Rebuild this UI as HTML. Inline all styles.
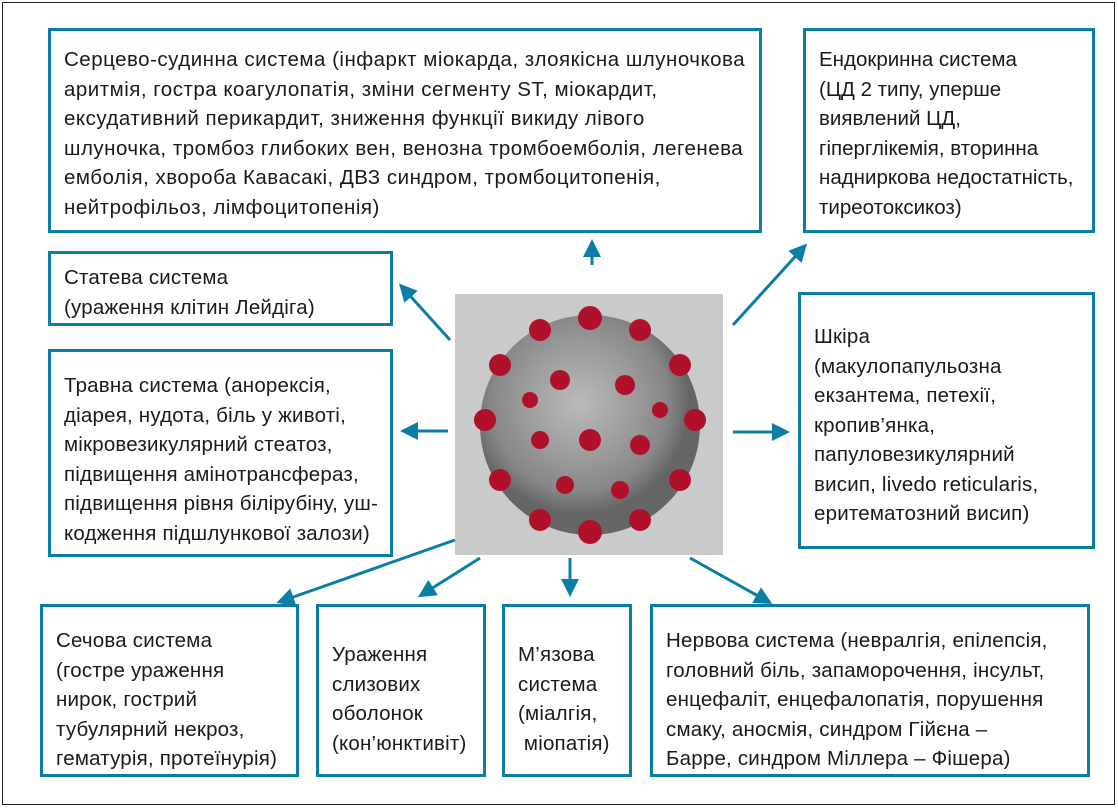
<!DOCTYPE html>
<html><head><meta charset="utf-8"><style>
body{margin:0;width:1118px;height:808px;background:#fff;position:relative;overflow:hidden;font-family:"Liberation Sans","DejaVu Sans",sans-serif;color:#1a1a1a}
.frame{position:absolute;left:2px;top:2px;width:1111px;height:801px;border:1px solid #222}
.b{position:absolute;border:3px solid #0a7ea4;box-sizing:border-box;font-size:20.5px;line-height:29.5px;padding:14px 0 0 13px;white-space:nowrap;letter-spacing:0.2px}
svg{position:absolute;left:0;top:0}
</style></head><body>
<div class="frame"></div>
<div class="b" style="left:48px;top:28px;width:714px;height:205px;letter-spacing:0.5px">Серцево-судинна система (інфаркт міокарда, злоякісна шлуночкова<br>аритмія, гостра коагулопатія, зміни сегменту ST, міокардит,<br>ексудативний перикардит, зниження функції викиду лівого<br>шлуночка, тромбоз глибоких вен, венозна тромбоемболія, легенева<br>емболія, хвороба Кавасакі, ДВЗ синдром, тромбоцитопенія,<br>нейтрофільоз, лімфоцитопенія)</div>
<div class="b" style="left:803px;top:28px;width:292px;height:205px;letter-spacing:0">Ендокринна система<br>(ЦД 2 типу, уперше<br>виявлений ЦД,<br>гіперглікемія, вторинна<br>надниркова недостатність,<br>тиреотоксикоз)</div>
<div class="b" style="left:48px;top:251px;width:345px;height:75px;padding-top:9px">Статева система<br>(ураження клітин Лейдіга)</div>
<div class="b" style="left:48px;top:349px;width:345px;height:208px;padding-top:19px">Травна система (анорексія,<br>діарея, нудота, біль у животі,<br>мікровезикулярний стеатоз,<br>підвищення амінотрансфераз,<br>підвищення рівня білірубіну, уш-<br>кодження підшлункової залози)</div>
<div class="b" style="left:798px;top:292px;width:297px;height:257px;padding-top:27px">Шкіра<br>(макулопапульозна<br>екзантема, петехії,<br>кропив’янка,<br>папуловезикулярний<br>висип, livedo reticularis,<br>еритематозний висип)</div>
<div class="b" style="left:40px;top:604px;width:259px;height:173px;padding-top:19px">Сечова система<br>(гостре ураження<br>нирок, гострий<br>тубулярний некроз,<br>гематурія, протеїнурія)</div>
<div class="b" style="left:316px;top:604px;width:170px;height:173px;padding-top:33px">Ураження<br>слизових<br>оболонок<br>(кон’юнктивіт)</div>
<div class="b" style="left:502px;top:604px;width:130px;height:173px;padding-top:33px">М’язова<br>система<br>(міалгія,<br>&nbsp;міопатія)</div>
<div class="b" style="left:650px;top:604px;width:440px;height:173px;padding-top:19px">Нервова система (невралгія, епілепсія,<br>головний біль, запаморочення, інсульт,<br>енцефаліт, енцефалопатія, порушення<br>смаку, аносмія, синдром Гійєна –<br>Барре, синдром Міллера – Фішера)</div>
<svg width="1118" height="808">
<defs><marker id="a" markerWidth="6" markerHeight="6" refX="4" refY="3" orient="auto"><path d="M0,0 L6,3 L0,6 Z" fill="#0a7ea4"/></marker>
<radialGradient id="g" cx="45%" cy="40%"><stop offset="0" stop-color="#bbb"/><stop offset="0.8" stop-color="#888"/><stop offset="1" stop-color="#666"/></radialGradient></defs>
<rect x="455" y="294" width="268" height="261" fill="#c9cbcb"/>
<circle cx="590" cy="425" r="110" fill="url(#g)"/>
<g fill="#b0102a">
<circle cx="590" cy="318" r="12"/><circle cx="540" cy="330" r="11"/><circle cx="640" cy="330" r="11"/><circle cx="500" cy="365" r="11"/><circle cx="680" cy="365" r="11"/>
<circle cx="485" cy="420" r="11"/><circle cx="695" cy="420" r="11"/><circle cx="500" cy="480" r="11"/><circle cx="680" cy="480" r="11"/><circle cx="540" cy="520" r="11"/>
<circle cx="640" cy="520" r="11"/><circle cx="590" cy="532" r="12"/><circle cx="560" cy="380" r="10"/><circle cx="625" cy="385" r="10"/><circle cx="590" cy="440" r="11"/>
<circle cx="540" cy="440" r="9"/><circle cx="640" cy="445" r="10"/><circle cx="565" cy="485" r="9"/><circle cx="620" cy="490" r="9"/><circle cx="530" cy="400" r="8"/><circle cx="660" cy="410" r="8"/>
</g>
<g stroke="#0a7ea4" stroke-width="3" fill="none" marker-end="url(#a)">
<line x1="592" y1="265" x2="592" y2="245"/>
<line x1="450" y1="340" x2="403" y2="288"/>
<line x1="448" y1="431" x2="406" y2="431"/>
<line x1="733" y1="325" x2="803" y2="248"/>
<line x1="733" y1="432" x2="784" y2="432"/>
<line x1="455" y1="540" x2="282" y2="601"/>
<line x1="480" y1="558" x2="423" y2="594"/>
<line x1="570" y1="558" x2="570" y2="591"/>
<line x1="690" y1="558" x2="767" y2="601"/>
</g>
</svg>
</body></html>
